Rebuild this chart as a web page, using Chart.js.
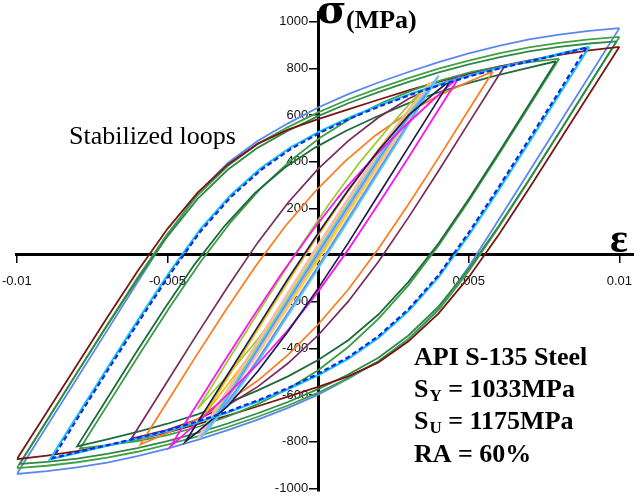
<!DOCTYPE html>
<html>
<head>
<meta charset="utf-8">
<script src="https://cdn.jsdelivr.net/npm/chart.js@4.4.1/dist/chart.umd.min.js"></script>
<style>
  html, body { margin: 0; padding: 0; background: #fff; }
  #wrap { width: 634px; height: 501px; position: relative; }
</style>
</head>
<body>
<div id="wrap"><canvas id="c" width="634" height="501"></canvas></div>
<script>
// ---- tick values (strain, stress in MPa) ----
const xTickValues = [-0.01, -0.005, 0.005, 0.01];
const yTickValues = [-1000, -800, -600, -400, -200, 200, 400, 600, 800, 1000];

// ---- hysteresis loops: [strain, stress MPa], descending branch then ascending branch ----
const loopBlue10 = [
  [0.0100,972],[0.0090,767],[0.0080,562],[0.0070,357],[0.0060,152],[0.0050,-50],[0.0040,-230],[0.0030,-360],
  [0.0020,-455],[0.0010,-530],[0.0000,-598],[-0.0010,-655],[-0.0020,-705],[-0.0030,-750],[-0.0040,-792],
  [-0.0050,-830],[-0.0060,-862],[-0.0070,-890],[-0.0080,-910],[-0.0090,-926],[-0.0100,-938],
  [-0.0090,-733],[-0.0080,-528],[-0.0070,-323],[-0.0060,-118],[-0.0050,84],[-0.0040,264],[-0.0030,394],
  [-0.0020,489],[-0.0010,564],[0.0000,632],[0.0010,689],[0.0020,739],[0.0030,784],[0.0040,826],
  [0.0050,864],[0.0060,896],[0.0070,924],[0.0080,944],[0.0090,960],[0.0100,972]
];
const loopGreen10 = [
  [0.0100,934],[0.0090,729],[0.0080,524],[0.0070,320],[0.0060,120],[0.0050,-70],[0.0040,-235],[0.0030,-360],
  [0.0020,-455],[0.0010,-527],[0.0000,-590],[-0.0010,-645],[-0.0020,-693],[-0.0030,-737],[-0.0040,-777],
  [-0.0050,-812],[-0.0060,-843],[-0.0070,-868],[-0.0080,-888],[-0.0090,-903],[-0.0100,-913],
  [-0.0090,-708],[-0.0080,-503],[-0.0070,-299],[-0.0060,-99],[-0.0050,91],[-0.0040,256],[-0.0030,381],
  [-0.0020,476],[-0.0010,548],[0.0000,611],[0.0010,666],[0.0020,714],[0.0030,758],[0.0040,798],
  [0.0050,833],[0.0060,864],[0.0070,889],[0.0080,909],[0.0090,924],[0.0100,934]
];
const loopGreenB10 = [
  [0.0099,915],[0.0090,730],[0.0080,525],[0.0070,322],[0.0060,125],[0.0050,-60],[0.0040,-220],[0.0030,-345],
  [0.0020,-440],[0.0010,-512],[0.0000,-575],[-0.0010,-630],[-0.0020,-678],[-0.0030,-722],[-0.0040,-762],
  [-0.0050,-797],[-0.0060,-827],[-0.0070,-852],[-0.0080,-872],[-0.0090,-886],[-0.0099,-895],
  [-0.0090,-710],[-0.0080,-505],[-0.0070,-302],[-0.0060,-105],[-0.0050,80],[-0.0040,240],[-0.0030,365],
  [-0.0020,460],[-0.0010,532],[0.0000,595],[0.0010,650],[0.0020,698],[0.0030,742],[0.0040,782],
  [0.0050,817],[0.0060,847],[0.0070,872],[0.0080,892],[0.0090,906],[0.0099,915]
];
const loopDarkRed10 = [
  [0.0100,892],[0.0090,690],[0.0080,487],[0.0070,285],[0.0060,88],[0.0050,-95],[0.0040,-250],[0.0030,-370],
  [0.0020,-460],[0.0010,-520],[0.0000,-565],[-0.0010,-607],[-0.0020,-648],[-0.0030,-688],[-0.0040,-725],
  [-0.0050,-760],[-0.0060,-790],[-0.0070,-817],[-0.0080,-840],[-0.0090,-860],[-0.0100,-875],
  [-0.0090,-673],[-0.0080,-470],[-0.0070,-268],[-0.0060,-71],[-0.0050,112],[-0.0040,267],[-0.0030,387],
  [-0.0020,477],[-0.0010,537],[0.0000,582],[0.0010,624],[0.0020,665],[0.0030,705],[0.0040,742],
  [0.0050,777],[0.0060,807],[0.0070,834],[0.0080,857],[0.0090,877],[0.0100,892]
];
const loopCyan09 = [
  [0.0090,892],[0.0080,687],[0.0070,482],[0.0060,280],[0.0050,85],[0.0040,-95],[0.0030,-240],[0.0020,-355],
  [0.0010,-445],[0.0000,-515],[-0.0010,-575],[-0.0020,-628],[-0.0030,-675],[-0.0040,-717],[-0.0050,-755],
  [-0.0060,-788],[-0.0070,-817],[-0.0080,-848],[-0.0089,-875],
  [-0.0079,-670],[-0.0069,-465],[-0.0059,-263],[-0.0049,-68],[-0.0039,112],[-0.0029,257],[-0.0019,372],
  [-0.0009,462],[0.0001,532],[0.0011,592],[0.0021,645],[0.0031,692],[0.0041,734],[0.0051,772],
  [0.0061,805],[0.0071,834],[0.0081,865],[0.0090,892]
];
const loopBlue09 = [
  [0.0089,888],[0.0080,700],[0.0070,495],[0.0060,292],[0.0050,96],[0.0040,-86],[0.0030,-232],[0.0020,-348],
  [0.0010,-438],[0.0000,-509],[-0.0010,-570],[-0.0020,-623],[-0.0030,-671],[-0.0040,-713],[-0.0050,-751],
  [-0.0060,-785],[-0.0070,-815],[-0.0080,-845],[-0.0088,-870],
  [-0.0079,-682],[-0.0069,-477],[-0.0059,-275],[-0.0049,-79],[-0.0039,102],[-0.0029,248],[-0.0019,364],
  [-0.0009,455],[0.0001,526],[0.0011,587],[0.0021,640],[0.0031,688],[0.0041,730],[0.0051,768],
  [0.0061,802],[0.0071,832],[0.0081,862],[0.0089,888]
];
const loopGreen08 = [
  [0.0080,841],[0.0070,636],[0.0060,431],[0.0050,231],[0.0040,41],[0.0030,-129],[0.0020,-274],[0.0010,-394],
  [0.0000,-494],[-0.0010,-574],[-0.0020,-639],[-0.0030,-692],[-0.0040,-737],[-0.0050,-772],[-0.0060,-797],
  [-0.0070,-815],[-0.0079,-829],
  [-0.0069,-624],[-0.0059,-419],[-0.0049,-219],[-0.0039,-29],[-0.0029,141],[-0.0019,286],[-0.0009,406],
  [0.0001,506],[0.0011,586],[0.0021,651],[0.0031,704],[0.0041,749],[0.0051,784],[0.0061,809],
  [0.0071,827],[0.0080,841]
];
const loopDarkGreen08 = [
  [0.0079,830],[0.0070,645],[0.0060,440],[0.0050,240],[0.0040,50],[0.0030,-115],[0.0020,-255],[0.0010,-365],
  [0.0000,-450],[-0.0010,-520],[-0.0020,-580],[-0.0030,-635],[-0.0040,-683],[-0.0050,-723],[-0.0060,-758],
  [-0.0070,-790],[-0.0080,-820],
  [-0.0071,-635],[-0.0061,-430],[-0.0051,-230],[-0.0041,-40],[-0.0031,125],[-0.0021,265],[-0.0011,375],
  [-0.0001,460],[0.0009,530],[0.0019,590],[0.0029,645],[0.0039,693],[0.0049,733],[0.0059,768],
  [0.0069,800],[0.0079,830]
];
const loopPurple06 = [
  [0.0062,812],[0.0050,566],[0.0040,361],[0.0030,161],[0.0020,-29],[0.0010,-199],[0.0000,-344],
  [-0.0010,-464],[-0.0020,-564],[-0.0030,-644],[-0.0040,-704],[-0.0050,-749],[-0.0062,-787],
  [-0.0050,-541],[-0.0040,-336],[-0.0030,-136],[-0.0020,54],[-0.0010,224],[0.0000,369],
  [0.0010,489],[0.0020,589],[0.0030,669],[0.0040,729],[0.0050,774],[0.0062,812]
];
const loopOrange06 = [
  [0.0058,786],[0.0050,622],[0.0040,417],[0.0030,217],[0.0020,27],[0.0010,-148],[0.0000,-298],
  [-0.0010,-428],[-0.0020,-538],[-0.0030,-628],[-0.0040,-703],[-0.0050,-763],[-0.0059,-812],
  [-0.0051,-648],[-0.0041,-443],[-0.0031,-243],[-0.0021,-53],[-0.0011,122],[-0.0001,272],
  [0.0009,402],[0.0019,512],[0.0029,602],[0.0039,677],[0.0049,737],[0.0058,786]
];
const loopMagenta05 = [
  [0.0047,766],[0.0040,623],[0.0030,418],[0.0020,218],[0.0010,23],[0.0000,-157],[-0.0010,-322],
  [-0.0020,-467],[-0.0030,-597],[-0.0040,-717],[-0.0049,-820],
  [-0.0042,-677],[-0.0032,-472],[-0.0022,-272],[-0.0012,-77],[-0.0002,103],[0.0008,268],
  [0.0018,413],[0.0028,543],[0.0038,663],[0.0047,766]
];
const loopNavy04 = [
  [0.0044,749],[0.0030,462],[0.0020,257],[0.0010,52],[0.0000,-143],[-0.0010,-328],[-0.0020,-498],
  [-0.0030,-648],[-0.0040,-758],[-0.0044,-799],
  [-0.0030,-512],[-0.0020,-307],[-0.0010,-102],[0.0000,93],[0.0010,278],[0.0020,448],
  [0.0030,598],[0.0040,708],[0.0044,749]
];
const loopPink = [
  [0.0038,745],[0.0020,370],[0.0000,-45],[-0.0020,-445],[-0.0030,-630],[-0.0040,-785],
  [-0.0022,-410],[-0.0002,5],[0.0018,405],[0.0028,590],[0.0038,745]
];
const loopYellow = [
  [0.0036,720],[0.0020,388],[0.0000,-22],[-0.0020,-412],[-0.0037,-735],
  [-0.0021,-403],[-0.0001,7],[0.0019,397],[0.0036,720]
];
const loopLime = [
  [0.0034,700],[0.0020,412],[0.0010,207],[0.0000,5],[-0.0010,-185],[-0.0020,-360],[-0.0030,-515],[-0.0040,-660],
  [-0.0026,-372],[-0.0016,-167],[-0.0006,35],[0.0004,225],[0.0014,400],[0.0024,555],[0.0034,700]
];
const loopSky = [
  [0.0040,765],[0.0020,350],[0.0000,-60],[-0.0020,-460],[-0.0030,-640],[-0.0039,-786],
  [-0.0019,-371],[0.0001,39],[0.0021,439],[0.0031,619],[0.0040,765]
];
const loopDodger = [
  [0.0039,750],[0.0020,360],[0.0000,-50],[-0.0020,-450],[-0.0030,-630],[-0.0038,-770],
  [-0.0019,-380],[0.0001,30],[0.0021,430],[0.0031,610],[0.0039,750]
];
const loopLavender = [
  [0.0040,770],[0.0020,358],[0.0000,-50],[-0.0020,-450],[-0.0037,-760],
  [-0.0017,-348],[0.0003,60],[0.0023,460],[0.0040,770]
];
const loopGold = [
  [0.0037,740],[0.0020,390],[0.0010,185],[0.0000,-15],[-0.0010,-205],[-0.0020,-385],[-0.0030,-555],[-0.0038,-690],
  [-0.0021,-340],[-0.0011,-135],[-0.0001,65],[0.0009,255],[0.0019,435],[0.0029,605],[0.0037,740]
];
const loopPeach = [
  [0.0037,735],[0.0020,385],[0.0000,-25],[-0.0020,-425],[-0.0039,-770],
  [-0.0022,-420],[-0.0002,-10],[0.0018,390],[0.0037,735]
];
const loopLightGreen = [
  [0.0035,705],[0.0020,395],[0.0000,-15],[-0.0020,-410],[-0.0038,-740],
  [-0.0023,-430],[-0.0003,-20],[0.0017,375],[0.0035,705]
];

// series list: [data, colour, width, dash]
const series = [
  [loopBlue09, '#1028e6', 2.2, [5, 3]],
  [loopCyan09, '#18c4f2', 2.2, []],
  [loopNavy04, '#1c1c4c', 1.7, []],
  [loopMagenta05, '#ff14f0', 1.8, []],
  [loopSky, '#62c6f4', 1.7, []],
  [loopDodger, '#3a9cf0', 1.7, []],
  [loopLavender, '#c8a2f4', 1.7, []],
  [loopPink, '#ffb0c4', 1.7, []],
  [loopYellow, '#f6dc1a', 1.7, []],
  [loopGold, '#f0bc08', 1.7, []],
  [loopPeach, '#ffc488', 1.7, []],
  [loopLime, '#98cc30', 1.7, []],
  [loopLightGreen, '#b8e060', 1.7, []],
  [loopOrange06, '#ff7a1e', 1.7, []],
  [loopPurple06, '#7a2a5c', 1.7, []],
  [loopDarkGreen08, '#1f6b3c', 1.8, []],
  [loopGreen08, '#3c9c46', 1.8, []],
  [loopDarkRed10, '#7a1616', 1.8, []],
  [loopGreenB10, '#2e8a44', 1.8, []],
  [loopGreen10, '#44a044', 1.8, []],
  [loopBlue10, '#5a88f2', 1.8, []]
];

// move a centred axis's tick labels away from the axis line
function offsetLabels(dx, dy) {
  return scale => {
    if (scale._labelShift) return;
    scale._labelShift = true;
    const base = scale._computeLabelItems;
    scale._computeLabelItems = function (area) {
      const items = base.call(this, area);
      items.forEach(it => {
        const t = it.options.translation;
        it.options.translation = [t[0] + dx, t[1] + dy];
      });
      return items;
    };
  };
}

const textPlugin = {
  id: 'texts',
  afterDraw(chart) {
    const ctx = chart.ctx;
    ctx.save();
    ctx.fillStyle = '#000';
    ctx.textAlign = 'left';
    ctx.textBaseline = 'alphabetic';
    ctx.font = 'bold 40px "DejaVu Serif"';
    ctx.fillText('σ', 317, 23);
    ctx.font = 'bold 26px "Liberation Serif"';
    ctx.fillText('(MPa)', 346, 28);
    ctx.font = 'bold 42px "Liberation Serif"';
    ctx.fillText('ε', 610, 252);
    ctx.font = '26px "Liberation Serif"';
    ctx.fillText('Stabilized loops', 69, 144);
    ctx.font = 'bold 26px "Liberation Serif"';
    ctx.fillText('API S-135 Steel', 414, 365);
    const sub = (y, letter, rest) => {
      ctx.font = 'bold 26px "Liberation Serif"';
      ctx.fillText('S', 414, y);
      let x = 414 + ctx.measureText('S').width + 1;
      ctx.font = 'bold 17px "Liberation Serif"';
      ctx.fillText(letter, x, y + 4);
      x += ctx.measureText(letter).width;
      ctx.font = 'bold 26px "Liberation Serif"';
      ctx.fillText(rest, x, y);
    };
    sub(397, 'Y', ' = 1033MPa');
    sub(429, 'U', ' = 1175MPa');
    ctx.font = 'bold 26px "Liberation Serif"';
    ctx.fillText('RA = 60%', 414, 462);
    ctx.restore();
  }
};

new Chart(document.getElementById('c'), {
  type: 'scatter',
  data: {
    datasets: series.map(([pts, color, w, dash]) => ({
      data: pts.map(([x, y]) => ({x, y})),
      showLine: true,
      borderColor: color,
      backgroundColor: color,
      borderWidth: w,
      borderDash: dash,
      pointRadius: 0,
      tension: 0,
      fill: false
    }))
  },
  options: {
    responsive: false,
    animation: false,
    events: [],
    layout: { padding: { left: 14, right: 0, top: 12, bottom: 1 } },
    plugins: { legend: { display: false }, tooltip: { enabled: false } },
    scales: {
      x: {
        type: 'linear',
        position: { y: 0 },
        min: -0.01,
        max: 0.01046,
        beforeUpdate: offsetLabels(0, 10),
        afterFit: s => { s.height = 0; },
        afterBuildTicks: s => { s.ticks = xTickValues.map(v => ({ value: v })); },
        border: { display: true, color: '#000', width: 3 },
        grid: { drawOnChartArea: false, drawTicks: true, tickLength: 7, color: '#000', lineWidth: 1.5 },
        ticks: {
          color: '#111',
          font: { family: '"Liberation Sans", Arial, sans-serif', size: 13 },
          padding: 2,
          maxRotation: 0,
          autoSkip: false,
          callback: v => String(v)
        }
      },
      y: {
        type: 'linear',
        position: { x: 0 },
        min: -1012,
        max: 1041,
        beforeUpdate: offsetLabels(-10, 0),
        afterFit: s => { s.width = 0; },
        afterBuildTicks: s => { s.ticks = yTickValues.map(v => ({ value: v })); },
        border: { display: true, color: '#000', width: 3 },
        grid: { drawOnChartArea: false, drawTicks: true, tickLength: 8, color: '#000', lineWidth: 1.5 },
        ticks: {
          color: '#111',
          font: { family: '"Liberation Sans", Arial, sans-serif', size: 13 },
          padding: 2,
          autoSkip: false,
          callback: v => String(v)
        }
      }
    }
  },
  plugins: [textPlugin]
});
</script>
</body>
</html>
